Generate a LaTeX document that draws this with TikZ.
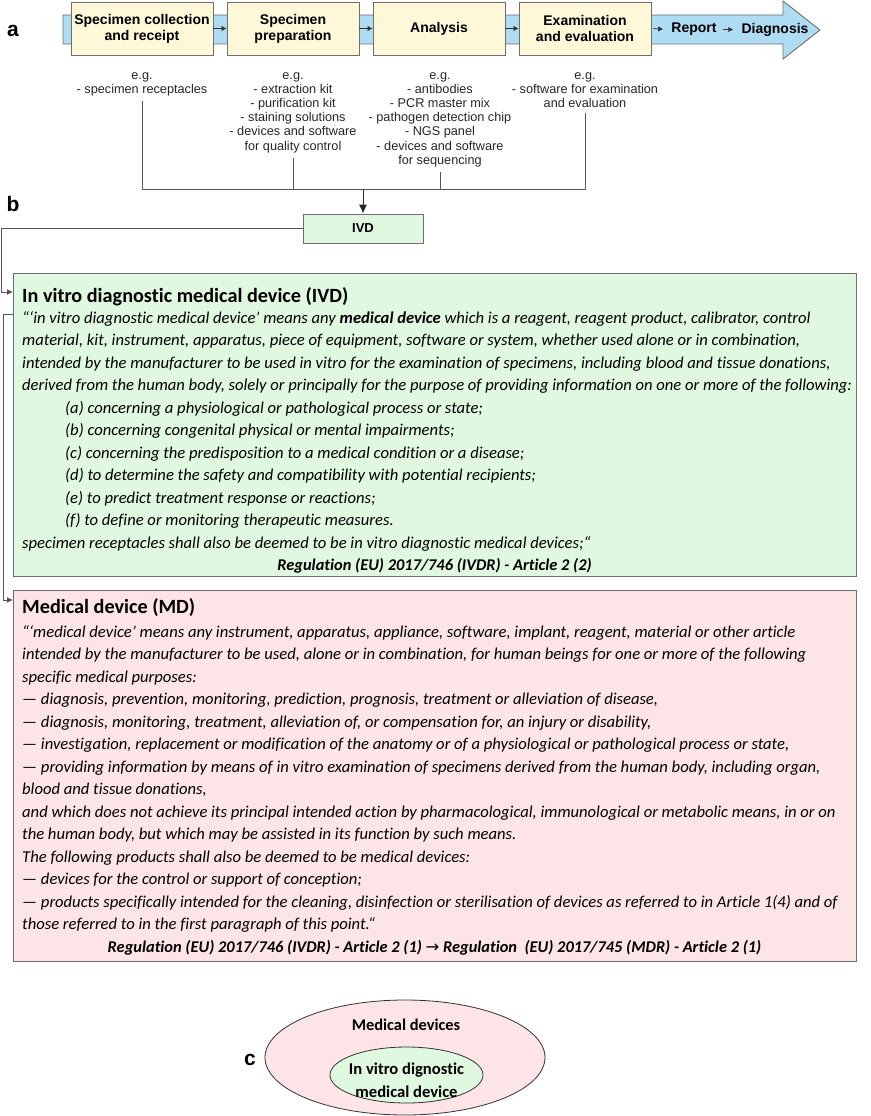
\documentclass[tikz,border=0pt]{standalone}
\usepackage{fontspec}
\setmainfont{Carlito}[Ligatures=NoCommon]
\newfontfamily\arial{Liberation Sans}
\newfontfamily\dejavu{DejaVu Sans}
\usetikzlibrary{shapes.geometric,arrows.meta,calc}
\definecolor{boxyellow}{HTML}{FEF8D8}
\definecolor{arrblue}{HTML}{AEDCF2}
\definecolor{ivdgreen}{HTML}{E0F8E0}
\definecolor{mdpink}{HTML}{FDE4E7}
\definecolor{edgegray}{HTML}{6E6E6E}
\definecolor{linegray}{HTML}{555555}
\tikzset{
  stepbox/.style={draw=edgegray, fill=boxyellow, line width=0.9pt, minimum height=53pt, inner sep=1pt, align=center, font=\arial\bfseries\fontsize{14}{16}\selectfont},
  flowtext/.style={font=\arial\bfseries\fontsize{14}{16}\selectfont, inner sep=1pt},
  egtext/.style={align=center, anchor=north, inner sep=2pt, font=\arial\fontsize{12.7}{14.2}\selectfont, text=black!85},
  conn/.style={draw=linegray, line width=0.9pt},
  arr/.style={conn, -{Latex[length=6pt,width=6pt]}},
  bigarr/.style={draw=black!85, line width=0.9pt, -{Latex[length=9pt,width=8pt]}},
  smallarr/.style={draw=black!80, line width=0.8pt, -{Latex[length=5pt,width=5.5pt]}},
  bigbox/.style={draw=edgegray, line width=1pt, anchor=north west, minimum width=843pt, inner sep=0pt},
  bodyline/.style={anchor=base west, inner sep=0pt, font=\fontsize{16.6}{18}\selectfont\itshape},
  titleline/.style={anchor=base west, inner sep=0pt, font=\fontsize{20.2}{22}\selectfont\bfseries},
  regline/.style={anchor=base, inner sep=0pt, font=\fontsize{16.4}{18}\selectfont\itshape\bfseries},
  panel/.style={font=\arial\bfseries\fontsize{21}{22}\selectfont, inner sep=0pt},
  venn/.style={ellipse, draw=black!80, line width=0.8pt, inner sep=0pt}
}
\begin{document}
\begin{tikzpicture}[x=1pt,y=-1pt]
\useasboundingbox (0,0) rectangle (870,1116);
% panel a
\node[panel] (la) at (13,31) {a};
\draw[draw=edgegray, fill=arrblue, line width=0.9pt] (63,15) -- (783,15) -- (783,1) -- (820,30) -- (783,59) -- (783,44) -- (63,44) -- cycle;
\node[stepbox, minimum width=142pt] (s1) at (142,28.5) {Specimen collection\\and receipt};
\node[stepbox, minimum width=132pt] (s2) at (293,28.5) {Specimen\\preparation};
\node[stepbox, minimum width=132pt] (s3) at (439,28.5) {Analysis};
\node[stepbox, minimum width=132pt] (s4) at (585,28.5) {Examination\\and evaluation};
\node[flowtext] (rep) at (694,29.5) {Report};
\node[flowtext] (dia) at (775,29.5) {Diagnosis};
\draw[smallarr] (s1.east) -- (s2.west);
\draw[smallarr] (s2.east) -- (s3.west);
\draw[smallarr] (s3.east) -- (s4.west);
\draw[smallarr, shorten <=2pt, shorten >=7pt] (s4.east) -- (rep.west);
\draw[smallarr, shorten <=5pt, shorten >=7pt] (rep.east) -- (dia.west);
\node[egtext] (c1) at (142,70) {e.g.\\- specimen receptacles};
\node[egtext] (c2) at (293,70) {e.g.\\- extraction kit\\- purification kit\\- staining solutions\\- devices and software\\for quality control};
\node[egtext] (c3) at (440,70) {e.g.\\- antibodies\\- PCR master mix\\- pathogen detection chip\\- NGS panel\\- devices and software\\for sequencing};
\node[egtext] (c4) at (585,70) {e.g.\\- software for examination\\and evaluation};
\coordinate (bus) at (0,189);
\node[draw=edgegray, fill=ivdgreen, line width=0.9pt, minimum width=120pt, minimum height=29pt, font=\arial\bfseries\fontsize{13}{15}\selectfont] (ivd) at (363,228.5) {IVD};
\draw[conn] ([yshift=-3pt]c1.south) -- (c1.south |- bus) -- (c4.south |- bus) -- ([yshift=-3pt]c4.south);
\draw[conn] ([yshift=-3pt]c2.south) -- (c2.south |- bus);
\draw[conn] ([yshift=-3pt]c3.south) -- (c3.south |- bus);
\draw[bigarr] (ivd.north |- bus) -- (ivd.north);
% panel b
\node[panel] (lb) at (13,204) {b};
\node[bigbox, fill=ivdgreen, minimum height=303pt] (ivdbig) at (13,273) {};
\node[bigbox, fill=mdpink, minimum height=371pt] (mdbig) at (13,590) {};
\coordinate (k1) at (1,0);
\coordinate (k2) at (0,292);
\coordinate (k3) at (0,314);
\coordinate (k4) at (3,0);
\coordinate (k5) at (0,600);
\draw[arr] (ivd.west) -| (k1 |- k2) -- (ivdbig.west |- k2);
\draw[arr] (ivdbig.west |- k3) -| (k4 |- k5) -- (mdbig.west |- k5);
% IVD text
\node[titleline] (t1) at (22,302) {In vitro diagnostic medical device (IVD)};
\node[bodyline] (i1) at (22,323) {“‘in vitro diagnostic medical device’ means any \textbf{medical device} which is a reagent, reagent product, calibrator, control};
\node[bodyline] (i2) at (22,345.5) {material, kit, instrument, apparatus, piece of equipment, software or system, whether used alone or in combination,};
\node[bodyline] (i3) at (22,368) {intended by the manufacturer to be used in vitro for the examination of specimens, including blood and tissue donations,};
\node[bodyline] (i4) at (22,390.5) {derived from the human body, solely or principally for the purpose of providing information on one or more of the following:};
\node[bodyline] (i5) at (65,413) {(a) concerning a physiological or pathological process or state;};
\node[bodyline] (i6) at (65,435.5) {(b) concerning congenital physical or mental impairments;};
\node[bodyline] (i7) at (65,458) {(c) concerning the predisposition to a medical condition or a disease;};
\node[bodyline] (i8) at (65,480.5) {(d) to determine the safety and compatibility with potential recipients;};
\node[bodyline] (i9) at (65,503) {(e) to predict treatment response or reactions;};
\node[bodyline] (i10) at (65,525.5) {(f) to define or monitoring therapeutic measures.};
\node[bodyline] (i11) at (22,548) {specimen receptacles shall also be deemed to be in vitro diagnostic medical devices;“};
\node[regline] (i12) at (434.5,570) {Regulation (EU) 2017/746 (IVDR) - Article 2 (2)};
% MD text
\node[titleline] (t2) at (22,613) {Medical device (MD)};
\node[bodyline] (m1) at (22,637) {“‘medical device’ means any instrument, apparatus, appliance, software, implant, reagent, material or other article};
\node[bodyline] (m2) at (22,659.5) {intended by the manufacturer to be used, alone or in combination, for human beings for one or more of the following};
\node[bodyline] (m3) at (22,682) {specific medical purposes:};
\node[bodyline] (m4) at (22,704.5) {— diagnosis, prevention, monitoring, prediction, prognosis, treatment or alleviation of disease,};
\node[bodyline] (m5) at (22,727) {— diagnosis, monitoring, treatment, alleviation of, or compensation for, an injury or disability,};
\node[bodyline] (m6) at (22,749.5) {— investigation, replacement or modification of the anatomy or of a physiological or pathological process or state,};
\node[bodyline] (m7) at (22,772) {— providing information by means of in vitro examination of specimens derived from the human body, including organ,};
\node[bodyline] (m8) at (22,794.5) {blood and tissue donations,};
\node[bodyline] (m9) at (22,817) {and which does not achieve its principal intended action by pharmacological, immunological or metabolic means, in or on};
\node[bodyline] (m10) at (22,839.5) {the human body, but which may be assisted in its function by such means.};
\node[bodyline] (m11) at (22,862) {The following products shall also be deemed to be medical devices:};
\node[bodyline] (m12) at (22,884.5) {— devices for the control or support of conception;};
\node[bodyline] (m13) at (22,907) {— products specifically intended for the cleaning, disinfection or sterilisation of devices as referred to in Article 1(4) and of};
\node[bodyline] (m14) at (22,929.5) {those referred to in the first paragraph of this point.“};
\node[regline] (m15) at (434.5,952) {Regulation (EU) 2017/746 (IVDR) - Article 2 (1) {\dejavu\mdseries\upshape →} Regulation\ \ (EU) 2017/745 (MDR) - Article 2 (1)};
% panel c
\node[panel] (lc) at (250,1060) {c};
\node[venn, fill=mdpink, minimum width=280pt, minimum height=115pt] (outer) at (405,1057.5) {};
\node[font=\bfseries\fontsize{16.4}{18}\selectfont] (ml) at (406,1025) {Medical devices};
\node[venn, fill=ivdgreen, minimum width=153pt, minimum height=56pt] (inner) at (406.5,1075) {};
\node[font=\bfseries\fontsize{16.6}{23}\selectfont, align=center] (il) at (406.5,1080.5) {In vitro dignostic\\medical device};
\end{tikzpicture}
\end{document}
